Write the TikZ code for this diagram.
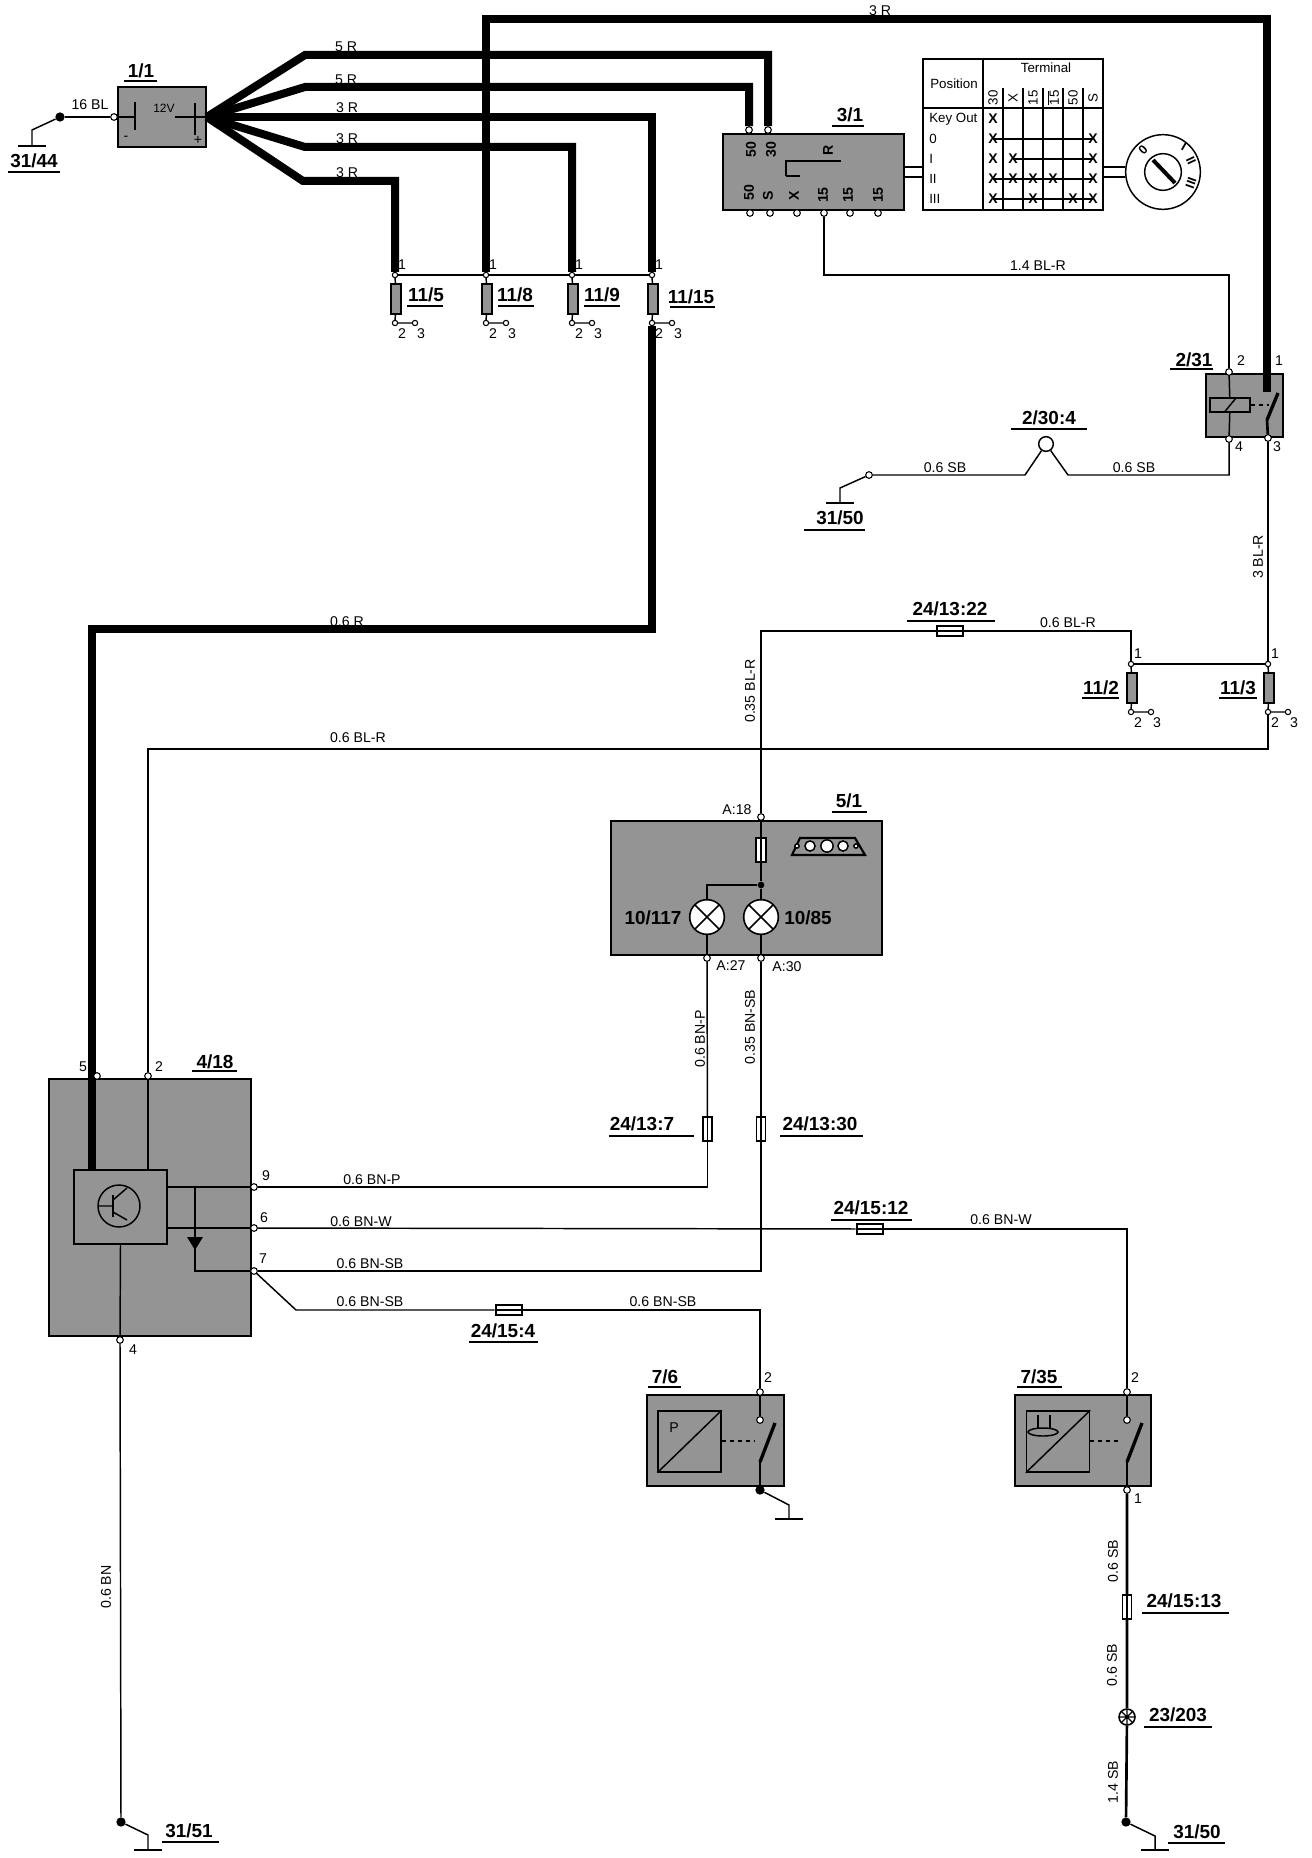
\documentclass[tikz,border=0pt]{standalone}
\usepackage{fontspec}
\setmainfont{Liberation Sans}
\tikzset{
	wirethin/.style={line width=1.1pt},
	wiremid/.style={line width=2pt},
	wirethick/.style={line width=6pt},
	pinc/.style={circle, draw=black, fill=white, line width=0.8pt, inner sep=0pt, minimum size=5pt},
	dotf/.style={circle, fill=black, inner sep=0pt, minimum size=7pt},
	boxshade/.style={rectangle, draw=black, line width=1.2pt, fill=black!42, inner sep=0pt},
	innerbox/.style={rectangle, draw=black, line width=1.1pt, inner sep=0pt},
	fusebox/.style={rectangle, draw=black, line width=1pt, fill=black!42, inner sep=0pt, minimum width=7.5pt, minimum height=22.5pt},
	fusev/.style={rectangle, draw=black, line width=1.2pt, fill=white, inner sep=0pt, minimum width=7pt, minimum height=18pt,
		path picture={\draw[line width=0.8pt] (path picture bounding box.north) -- (path picture bounding box.south);}},
	fuseh/.style={rectangle, draw=black, line width=1.6pt, fill=white, inner sep=0pt, minimum width=20pt, minimum height=7pt,
		path picture={\draw[line width=0.8pt] (path picture bounding box.west) -- (path picture bounding box.east);}},
	wlab/.style={inner sep=0pt, font=\fontsize{10.6}{12}\selectfont},
	wlabr/.style={wlab, rotate=90},
	tabfont/.style={font=\fontsize{10}{11}\selectfont},
	tag/.style={inner sep=0pt, font=\fontsize{14.2}{16}\selectfont\bfseries},
	tagline/.style={line width=1.1pt},
	lampc/.style={circle, draw=black, line width=1.2pt, fill=white, inner sep=0pt, minimum size=26pt,
		path picture={\draw[line width=1.2pt] (path picture bounding box.north west) -- (path picture bounding box.south east)
			(path picture bounding box.north east) -- (path picture bounding box.south west);}},
}
\begin{document}
\begin{tikzpicture}[x=0.75pt, y=-0.75pt]
\useasboundingbox (0,0) rectangle (1312,1858);

% Shaded components
\foreach \nm/\xa/\ya/\xb/\yb in {batt/118/87/206/147, swb/723/134/904/210, rel/1206/374/1283/437, inst/611/821/882/955, ecu/49/1079/251/1336, sensa/647/1395/784/1486, sensb/1015/1395/1151/1486}
	\node[boxshade, minimum width={(\xb-\xa)*0.75pt}, minimum height={(\yb-\ya)*0.75pt}] (\nm) at ({(\xa+\xb)/2},{(\ya+\yb)/2}) {};

% Fuses 11/x with their pins
\foreach \nm/\x/\y in {a/395/275, b/486/275, c/572/275, d/652/275, e/1131/664, f/1268/664} {
	\node[pinc, minimum size=4pt] (top\nm) at (\x,\y) {};
	\node[fusebox] (fu\nm) at (\x+1,\y+24) {};
	\node[pinc, minimum size=4pt] (bot\nm) at (\x,\y+48) {};
	\node[pinc, minimum size=4pt] (sid\nm) at (\x+20,\y+48) {};
	\node[wlab] (one\nm) at (\x+7,\y-10) {1};
	\node[wlab] (two\nm) at (\x+7,\y+59) {2};
	\node[wlab] (thr\nm) at (\x+26,\y+59) {3};
	\draw[wirethin] (top\nm) -- (fu\nm) -- (bot\nm) -- (sid\nm);
}
\draw[wirethin] (topa) -- (topb) -- (topc) -- (topd);
\draw[wirethin] (tope) -- (topf);

% Battery
\node[pinc] (battp) at (114,117) {};
\node[dotf] (gA) at (60,117) {};
\node[wlab, font=\fontsize{9}{10}\selectfont] (battv) at (164,108) {12V};
\node[wlab] (battmi) at (126,138) {-};
\node[wlab] (battpl) at (198,140) {+};
\draw[wirethin] (135,102) -- (135,130);
\draw[line width=2pt] (195,103) -- (195,135);
\coordinate (battm) at (135,117);
\coordinate (battn) at (175,117);
\draw[wirethin] (battp) -- (battm);
\draw[wiremid] (battn) -- (batt.east);
\draw[wiremid] (gA) -- (battp);

% Main thick wires
\coordinate (ba) at (305,55);
\coordinate (bb) at (305,87);
\coordinate (bc) at (305,147);
\coordinate (bd) at (303,181);
\coordinate (tl) at (486,19);
\coordinate (tr) at (1267,19);
\coordinate (rc) at (1267,392);
\coordinate (ml) at (652,629);
\coordinate (mr) at (92,629);
\coordinate (ic) at (92,1170);
\node[pinc] (ta) at (749,130) {};
\node[pinc] (tb) at (768,130) {};
\draw[wirethick] (batt.east) -- (ba) -| (tb);
\draw[wirethick] (batt.east) -- (bb) -| (ta);
\draw[wirethick] (batt.east) -| (topd);
\draw[wirethick] (batt.east) -- (bc) -| (topc);
\draw[wirethick] (batt.east) -- (bd) -| (topa);
\draw[wirethick] (topb) -- (tl) -- (tr) -- (rc);
\draw[wirethick] (botd) -- (ml) -- (mr) -- (ic);

% Ignition switch
\foreach \x [count=\i] in {750,770,797,824,850,878}
	\node[pinc] (sb\i) at (\x,213) {};
\foreach \x/\y/\txt [count=\i] in {751/150/50, 771/150/30, 828/150/R, 749/193/50, 768/196/S, 794/196/X, 823/195/15, 848/195/15, 878/195/15}
	\node[wlabr, font=\fontsize{10.6}{12}\selectfont\bfseries] (sw\i) at (\x,\y) {\txt};
\draw[wirethin] (786,176) -- (786,161) -- (841,161);
\draw[wirethin] (786,176) -- (800,176);

% Terminal table
\node[innerbox, minimum width=135pt, minimum height=113.25pt] (tabl) at (1013,134.5) {};
\node[circle, draw=black, line width=1.1pt, fill=white, inner sep=0pt, minimum size=56pt] (lock) at (1163,172) {};
\node[circle, draw=black, line width=1.1pt, inner sep=0pt, minimum size=27.5pt] (lockin) at (1163,172) {};
\coordinate (keya) at (1153,160);
\coordinate (keyb) at (1175,183);
\draw[line width=3pt] (keya) -- (keyb);
\foreach \y in {167,177} {
	\coordinate (dl\y) at (0,\y);
	\draw[wirethin] (swb.east |- dl\y) -- (tabl.west |- dl\y);
	\draw[wirethin] (tabl.east |- dl\y) -- (lock.west |- dl\y);
}
\draw[wirethin] (983,59) -- (983,210);
\draw[wirethin] (923,108) -- (1103,108);
\foreach \x in {1003,1023,1043,1063,1083}
	\draw[wirethin] (\x,88) -- (\x,210);
\node[wlab, tabfont] (tterm) at (1046,68) {Terminal};
\node[wlab, tabfont] (tpos) at (954,84) {Position};
\node[wlab, anchor=west, tabfont] (rowk) at (929,119) {Key Out};
\foreach \y/\txt [count=\i] in {139/0, 159/I, 179/II, 199/III}
	\node[wlab, anchor=west, tabfont] (row\i) at (929,\y) {\txt};
\foreach \x/\txt [count=\i] in {993/30, 1013/X, 1033/15, 1053/$\overline{\mbox{15}}$, 1073/50, 1093/S}
	\node[wlabr, tabfont] (col\i) at (\x,98) {\txt};
\draw[wirethin] (993,139) -- (1093,139);
\draw[wirethin] (1013,159) -- (1093,159);
\draw[wiremid] (993,179) -- (1093,179);
\draw[wiremid] (993,199) -- (1093,199);
\foreach \x/\y [count=\i] in {993/119, 993/139, 1093/139, 993/159, 1013/159, 1093/159, 993/179, 1013/179, 1033/179, 1053/179, 1093/179, 993/199, 1033/199, 1073/199, 1093/199}
	\node[wlab, font=\fontsize{10.5}{11}\selectfont\bfseries] (xm\i) at (\x,\y) {X};
\foreach \x/\y/\rt/\txt [count=\i] in {1143/150/45/0, 1184/147/-30/I, 1191/161/-65/II, 1191/183/-110/III}
	\node[wlab, rotate=\rt, font=\fontsize{9.5}{10}\selectfont\bfseries] (lk\i) at (\x,\y) {\txt};

% Relay 2/31
\node[pinc] (rel2) at (1229,372) {};
\node[pinc] (rel4) at (1229,439) {};
\node[pinc] (rel3) at (1268,438) {};
\node[innerbox, minimum width=30pt, minimum height=10.5pt] (coil) at (1230,405) {};
\coordinate (rela) at (1278,393);
\coordinate (relb) at (1267,420);
\coordinate (relc) at (1269,405);
\coordinate (bl) at (1229,275);
\draw[wirethin] (rel2) -- (coil) -- (rel4);
\draw[wirethin] (1224.5,412) -- (1236,398);
\draw[wirethin, dashed] (coil) -- (relc);
\draw[line width=2.5pt] (rela) -- (relb);
\draw[wiremid] (relb) -- (rel3);
\draw[wirethin] (sb4) |- (bl) -- (rel2);

% Earth wire with 2/30:4
\node[pinc] (gB) at (869,475) {};
\node[circle, draw=black, line width=1.1pt, fill=white, inner sep=0pt, minimum size=11pt] (aux) at (1046,444) {};
\coordinate (ka) at (1068,475);
\coordinate (kb) at (1025,475);
\draw[wirethin] (rel4) |- (ka) -- (aux) -- (kb) -- (gB);

% 3 BL-R and the lines from 11/2, 11/3
\coordinate (lowr) at (148,749);
\node[pinc] (ecu5) at (97,1076) {};
\node[pinc] (ecu2) at (148,1076) {};
\node[pinc] (inA18) at (761,817) {};
\node[fuseh] (fu2213) at (950,631) {};
\draw[wiremid] (rel3) -- (topf);
\draw[wirethin] (tope) |- (fu2213);
\draw[wirethin] (fu2213) -| (inA18);
\draw[wirethin] (botf) |- (lowr) -- (ecu2);

% Instrument cluster 5/1
\node[rectangle, draw=black, line width=1pt, fill=white, inner sep=0pt, minimum width=7.5pt, minimum height=18pt] (fu51) at (761,850) {};
\node[dotf, minimum size=5pt] (ind) at (761,885) {};
\node[lampc] (lpa) at (707,917) {};
\node[lampc] (lpb) at (761,917) {};
\node[pinc] (inA27) at (707,958) {};
\node[pinc] (inA30) at (761,958) {};
\draw[wirethin] (inA18) -- (fu51.north) -- (fu51.south) -- (ind) -- (lpb) -- (inA30);
\draw[wirethin] (ind) -| (lpa);
\draw[wirethin] (lpa) -- (inA27);
\draw[line width=1.6pt, fill=black!42] (792,855) -- (800,838) -- (855,838) -- (865,855) -- cycle;
\foreach \x/\r in {797/1.6, 810/3.8, 827/4.6, 843/3.8, 856/1.6}
	\draw[wirethin, fill=white] (\x,846) circle (\r pt);
\node[tag] (lpta) at (653,918) {10/117};
\node[tag] (lptb) at (808,918) {10/85};

% Control module 4/18
\node[innerbox, minimum width=69.75pt, minimum height=55.5pt] (icb) at (120.5,1207) {};
\node[circle, draw=black, line width=1.1pt, inner sep=0pt, minimum size=31.5pt] (tra) at (119,1206) {};
\draw[line width=2pt] (113,1195) -- (113,1217);
\draw[wirethin] (98,1206) -- (113,1206) (113,1200) -- (127,1188) (113,1212) -- (127,1220);
\node[pinc] (ecu9) at (254,1187) {};
\node[pinc] (ecu6) at (254,1228) {};
\node[pinc] (ecu7) at (254,1271) {};
\node[pinc] (ecu4) at (120,1340) {};
\coordinate (dia) at (195,1187);
\coordinate (dib) at (195,1271);
\draw[wirethin] (ecu2) -- (ecu2 |- icb.north);
\draw[wirethin] (icb.east |- ecu9) -- (ecu9);
\draw[wirethin] (icb.east |- ecu6) -- (ecu6);
\draw[wirethin] (dia) -- (dib) -- (ecu7);
\fill (187,1237) -- (203,1237) -- (195,1250) -- cycle;
\draw[wirethin] (icb.south) -- (ecu4);

% Sensors 7/6 and 7/35
\foreach \nm/\x/\xi in {a/760/689.5, b/1127/1058} {
	\node[pinc] (st\nm) at (\x,1392) {};
	\node[pinc] (sm\nm) at (\x,1420) {};
	\node[innerbox, minimum width=47.25pt, minimum height=45.75pt] (sq\nm) at (\xi,1441.5) {};
	\coordinate (ca\nm) at (\x+15,1423);
	\coordinate (cb\nm) at (\x,1462);
	\coordinate (cd\nm) at (\x-5,1441);
	\draw[wirethin] (st\nm) -- (sm\nm);
	\draw[line width=2.5pt] (ca\nm) -- (cb\nm);
	\draw[wirethin] (sq\nm.south west) -- (sq\nm.north east);
	\draw[wirethin, dashed] (sq\nm.east |- cd\nm) -- (cd\nm);
}
\node[wlab] (senp) at (674,1428) {P};
\draw[wirethin] (1043,1432) ellipse (15 and 4);
\draw[wirethin] (1038,1415) -- (1038,1428) (1050,1415) -- (1050,1428);

% Wires from 4/18
\node[fusev] (fu137) at (707.5,1129) {};
\node[fusev] (fu1330) at (761,1129) {};
\node[fuseh] (fu1512) at (870,1229) {};
\node[fuseh] (fu154) at (509,1310) {};
\node[fusev] (fu1513) at (1127,1607) {};
\node[circle, draw=black, line width=1.2pt, fill=white, inner sep=0pt, minimum size=12pt,
	path picture={\draw[line width=1pt] (path picture bounding box.north) -- (path picture bounding box.south)
	(path picture bounding box.west) -- (path picture bounding box.east)
	(path picture bounding box.north west) -- (path picture bounding box.south east)
	(path picture bounding box.north east) -- (path picture bounding box.south west);}] (spl) at (1127,1717) {};
\node[pinc] (senb) at (1127,1490) {};
\node[dotf] (gE) at (760,1490) {};
\node[dotf] (gC) at (121,1822) {};
\node[dotf] (gD) at (1126,1822) {};
\coordinate (bend) at (296,1310);
\draw[wirethin] (ecu9) -| (fu137);
\draw[wirethin] (fu137) -- (inA27);
\draw[wirethin] (ecu7) -| (fu1330);
\draw[wirethin] (fu1330) -- (inA30);
\draw[wirethin] (ecu6) -- (fu1512);
\draw[wirethin] (fu1512) -| (stb);
\draw[wirethin] (ecu7) -- (bend) -- (fu154);
\draw[wirethin] (fu154) -| (sta);
\draw[wirethin] (cba) -- (gE);
\draw[wirethin] (cbb) -- (senb);
\draw[wiremid] (senb) -- (fu1513) -- (spl) -- (gD);
\draw[wirethin] (ecu4) -- (gC);

% Earth points
\foreach \nm/\xk/\yk/\yf in {gA/32/130/146, gB/840/488/503, gC/148/1835/1850, gD/1155/1836/1850, gE/789/1505/1519} {
	\coordinate (\nm-k) at (\xk,\yk);
	\coordinate (\nm-f) at (\xk,\yf);
	\draw[wirethin] (\nm) -- (\nm-k) -- (\nm-f);
	\draw[wiremid] ([xshift=-10.5pt]\nm-f) -- ([xshift=10.5pt]\nm-f);
}

% Wire labels
\foreach \x/\y/\txt [count=\i] in {90/105/16 BL, 346/47/5 R, 346/80/5 R, 347/108/3 R, 347/139/3 R, 347/173/3 R, 880/11/3 R, 1038/266/1.4 BL-R, 945/468/0.6 SB, 1134/468/0.6 SB, 1068/623/0.6 BL-R, 347/622/0.6 R, 358/738/0.6 BL-R, 737/810/A:18, 731/966/A:27, 787/967/A:30, 372/1180/0.6 BN-P, 361/1222/0.6 BN-W, 1001/1220/0.6 BN-W, 370/1264/0.6 BN-SB, 370/1302/0.6 BN-SB, 663/1302/0.6 BN-SB, 83/1067/5, 159/1067/2, 266/1176/9, 264/1218/6, 263/1259/7, 133/1350/4, 768/1378/2, 1135/1378/2, 1138/1499/1, 1241/361/2, 1279/361/1, 1239/447/4, 1277/447/3}
	\node[wlab] (wl\i) at (\x,\y) {\txt};
\foreach \x/\y/\txt [count=\i] in {1258/557/3 BL-R, 750/691/0.35 BL-R, 700/1039/0.6 BN-P, 750/1027/0.35 BN-SB, 106/1587/0.6 BN, 1113/1561/0.6 SB, 1112/1665/0.6 SB, 1113/1782/1.4 SB}
	\node[wlabr] (wr\i) at (\x,\y) {\txt};

% Component tags
\foreach \x/\y/\txt/\xa/\xb/\yu [count=\i] in {141/71/{1/1}/124/157/81, 34/161/{31/44}/8/60/172, 426/295/{11/5}/407/443/306, 515/295/{11/8}/498/534/306, 602/295/{11/9}/584/620/306, 691/297/{11/15}/670/715/307, 850/115/{3/1}/832/864/126, 1194/360/{2/31}/1170/1213/369, 1049/418/{2/30:4}/1011/1087/429, 840/518/{31/50}/804/865/530, 950/609/{24/13:22}/907/995/621, 1101/688/{11/2}/1082/1119/698, 1238/688/{11/3}/1219/1257/698, 849/801/{5/1}/832/867/812, 215/1062/{4/18}/192/237/1071, 642/1124/{24/13:7}/609/694/1136, 820/1124/{24/13:30}/780/863/1136, 871/1208/{24/15:12}/831/912/1220, 503/1331/{24/15:4}/469/538/1342, 665/1377/{7/6}/648/681/1387, 1039/1377/{7/35}/1017/1062/1387, 1184/1601/{24/15:13}/1142/1229/1613, 1178/1715/{23/203}/1144/1212/1727, 189/1831/{31/51}/162/219/1842, 1197/1832/{31/50}/1168/1225/1843} {
	\node[tag] (tg\i) at (\x,\y) {\txt};
	\draw[tagline] (\xa,\yu) -- (\xb,\yu);
}
\end{tikzpicture}
\end{document}
